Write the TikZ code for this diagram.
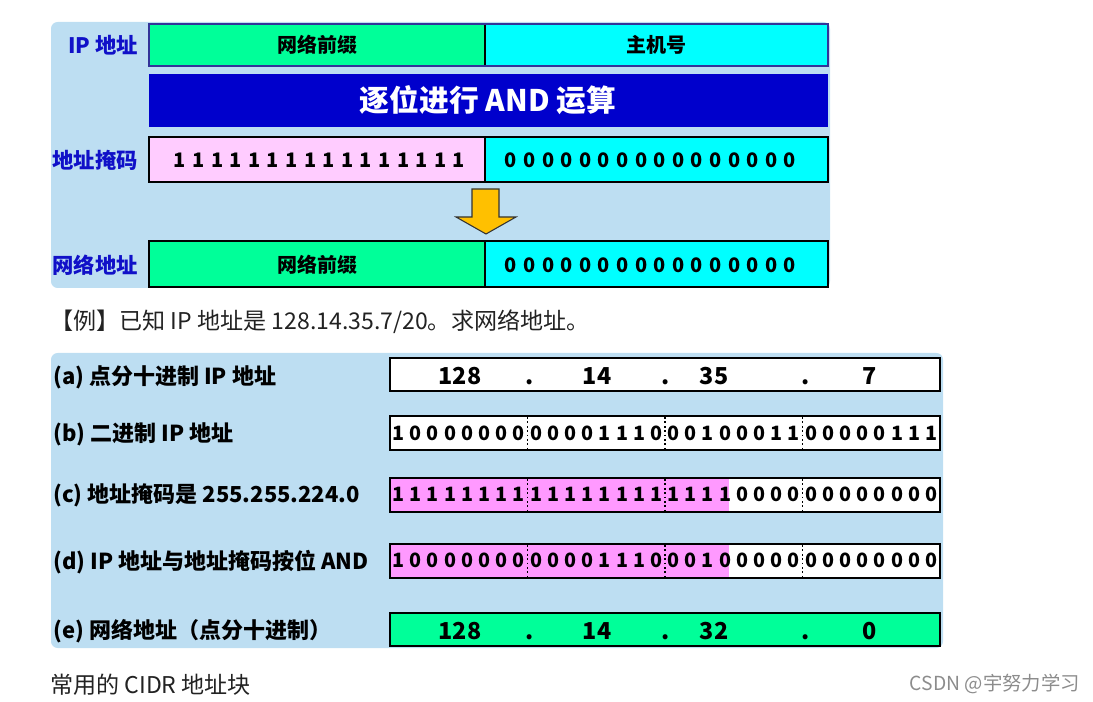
\documentclass[tikz,border=0pt]{standalone}
\usepackage{fontspec}
\setmainfont{Noto Sans CJK SC}
\usetikzlibrary{calc}
\definecolor{panelbg}{HTML}{BDDEF2}
\definecolor{netgreen}{HTML}{00FF99}
\definecolor{hostcyan}{HTML}{00FFFF}
\definecolor{maskpink}{HTML}{FFCCFF}
\definecolor{bitpink}{HTML}{FF99FF}
\definecolor{barblue}{HTML}{0000CC}
\definecolor{lblblue}{HTML}{1010C8}
\definecolor{rowedge}{HTML}{333399}
\definecolor{arroworange}{HTML}{FFC000}
\definecolor{plaintext}{HTML}{222222}
\tikzset{
  panel/.style={fill=panelbg, rounded corners=5},
  cell/.style={draw=black, line width=1.5},
  toplabel/.style={anchor=east, font=\fontsize{16}{18}\selectfont\bfseries, text=lblblue, inner sep=0},
  boxtext/.style={font=\fontsize{15}{17}\selectfont\bfseries, inner sep=0},
  bit/.style={font=\fontsize{14.8}{16}\selectfont\bfseries, inner sep=0},
  dec/.style={anchor=base, font=\fontsize{17.5}{19}\selectfont\bfseries, inner sep=0},
  rowlabel/.style={anchor=west, font=\fontsize{16.5}{18}\selectfont\bfseries, inner sep=0},
  sep/.style={dotted, line width=1.3},
  plain/.style={anchor=west, font=\fontsize{17.3}{19}\selectfont, text=plaintext, inner sep=0}
}
\begin{document}
\begin{tikzpicture}[x=0.75pt, y=-0.75pt]
\useasboundingbox (0,0) rectangle (1093,702);
% ---------- top panel ----------
\fill[panel] (51,22) rectangle (830,288);
% IP address row
\draw[fill=netgreen, draw=rowedge, line width=1.5] (149,24) rectangle (485,66);
\draw[fill=hostcyan, draw=rowedge, line width=1.5] (485,24) rectangle (828,66);
\draw[black, line width=1.2] (485,25) -- (485,65);
\node[boxtext] (ippre) at (317,45) {网络前缀};
\node[boxtext] (iphost) at (656,45) {主机号};
\node[toplabel] (lip) at (138,45) {IP 地址};
% AND bar
\fill[barblue] (149,74) rectangle (828,127);
\node[font=\fontsize{22.3}{25}\selectfont\bfseries, text=white, inner sep=0] (andbar) at (488,100) {逐位进行 AND 运算};
% mask row
\draw[cell, fill=maskpink] (149,137) rectangle (485,182);
\draw[cell, fill=hostcyan] (485,137) rectangle (828,182);
\node[toplabel] (lmask) at (138,160) {地址掩码};
\foreach \i in {0,...,15} {
  \node[boxtext] (mo\i) at ({180+\i*18.6},160) {1};
  \node[boxtext] (mz\i) at ({511+\i*18.6},160) {0};
}
% arrow
\draw[fill=arroworange, draw=black!80, line width=0.8]
  (472,189) -- (499,189) -- (499,217) -- (516,217) -- (486,234) -- (456,217) -- (472,217) -- cycle;
% network address row
\draw[cell, fill=netgreen] (149,241) rectangle (485,287);
\draw[cell, fill=hostcyan] (485,241) rectangle (828,287);
\node[toplabel] (lnet) at (138,265) {网络地址};
\node[boxtext] (netpre) at (317,265) {网络前缀};
\foreach \i in {0,...,15} {
  \node[boxtext] (nz\i) at ({511+\i*18.6},265) {0};
}
% ---------- example text ----------
\node[plain] (ex) at (50,322) {【例】已知 IP 地址是 128.14.35.7/20。求网络地址。};
% ---------- bottom panel ----------
\fill[panel] (51,353) rectangle (943,648);
% (a)
\draw[cell, fill=white] (390,358) rectangle (940,391);
\node[rowlabel] (la) at (53,377) {(a) 点分十进制 IP 地址};
\node[dec] (a1) at (460,384) {128};
\node[dec] (ad1) at (530,384) {.};
\node[dec] (a2) at (597,384) {14};
\node[dec] (ad2) at (666,384) {.};
\node[dec] (a3) at (714,384) {35};
\node[dec] (ad3) at (806,384) {.};
\node[dec] (a4) at (870,384) {7};
% (b)
\draw[cell, fill=white] (390,416) rectangle (940,450);
\node[rowlabel] (lb) at (53,434) {(b) 二进制 IP 地址};
\foreach \b [count=\i from 0] in {1,0,0,0,0,0,0,0, 0,0,0,0,1,1,1,0, 0,0,1,0,0,0,1,1, 0,0,0,0,0,1,1,1}
  \node[bit] (b\i) at ({390+(\i+0.5)*17.1875},433) {\b};
\foreach \k in {1,2,3} \draw[sep] ({390+\k*137.5},417) -- ({390+\k*137.5},449);
% (c)
\fill[bitpink] (390,478) rectangle (729,512);
\fill[white] (729,478) rectangle (940,512);
\draw[cell] (390,478) rectangle (940,512);
\node[rowlabel] (lc) at (53,495) {(c) 地址掩码是 255.255.224.0};
\foreach \b [count=\i from 0] in {1,1,1,1,1,1,1,1, 1,1,1,1,1,1,1,1, 1,1,1,1,0,0,0,0, 0,0,0,0,0,0,0,0}
  \node[bit] (c\i) at ({390+(\i+0.5)*17.1875},494) {\b};
\foreach \k in {1,2,3} \draw[sep] ({390+\k*137.5},479) -- ({390+\k*137.5},511);
% (d)
\fill[bitpink] (390,544) rectangle (729,578);
\fill[white] (729,544) rectangle (940,578);
\draw[cell] (390,544) rectangle (940,578);
\node[rowlabel] (ld) at (53,562) {(d) IP 地址与地址掩码按位 AND};
\foreach \b [count=\i from 0] in {1,0,0,0,0,0,0,0, 0,0,0,0,1,1,1,0, 0,0,1,0,0,0,0,0, 0,0,0,0,0,0,0,0}
  \node[bit] (d\i) at ({390+(\i+0.5)*17.1875},560) {\b};
\foreach \k in {1,2,3} \draw[sep] ({390+\k*137.5},545) -- ({390+\k*137.5},577);
% (e)
\draw[cell, fill=netgreen] (390,613) rectangle (940,646);
\node[rowlabel] (le) at (53,631) {(e) 网络地址（点分十进制）};
\node[dec] (e1) at (460,639) {128};
\node[dec] (ed1) at (530,639) {.};
\node[dec] (e2) at (597,639) {14};
\node[dec] (ed2) at (666,639) {.};
\node[dec] (e3) at (714,639) {32};
\node[dec] (ed3) at (806,639) {.};
\node[dec] (e4) at (870,639) {0};
% ---------- footer ----------
\node[plain] (cidr) at (50,685) {常用的 CIDR 地址块};
\node[anchor=east, font=\fontsize{14.5}{16}\selectfont, text=black!45, inner sep=0] (wm) at (1080,684) {CSDN @宇努力学习};
\end{tikzpicture}
\end{document}
